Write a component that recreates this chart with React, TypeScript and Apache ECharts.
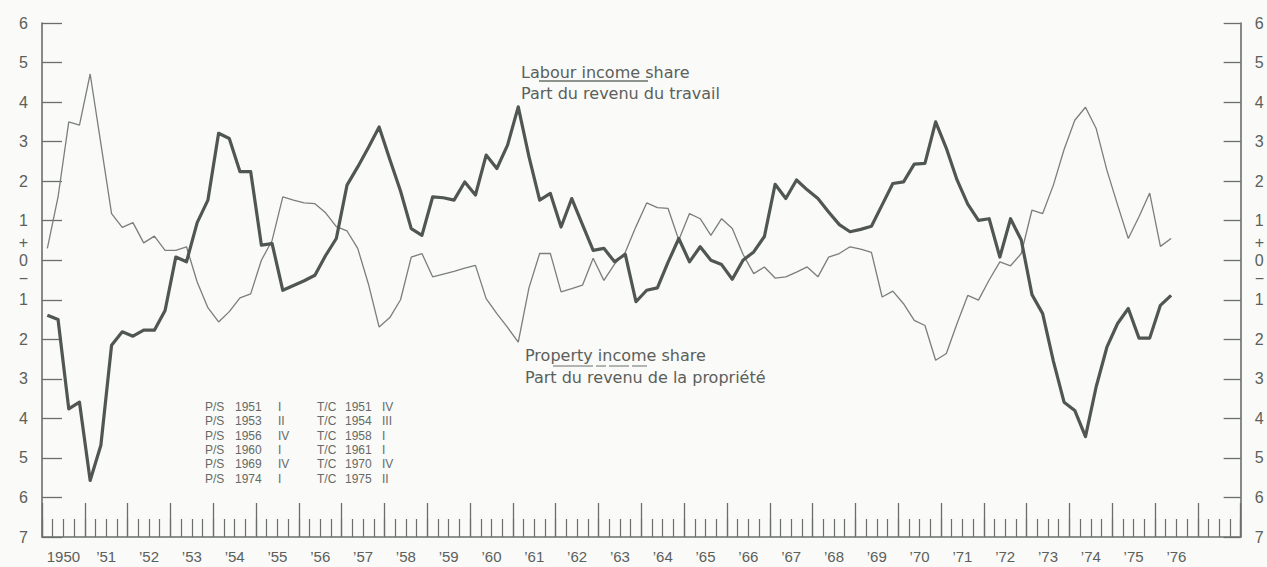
import React, { useEffect, useRef } from "react";
import * as echarts from "echarts";

// Year bands on the time axis (1950 .. 1977)
const years = [
  1950, 1951, 1952, 1953, 1954, 1955, 1956, 1957, 1958, 1959, 1960, 1961, 1962, 1963,
  1964, 1965, 1966, 1967, 1968, 1969, 1970, 1971, 1972, 1973, 1974, 1975, 1976, 1977,
];
const quarterNames = ["I", "II", "III", "IV"];

// Quarterly deviations, 1950 I .. 1976 II
const labourShare = [
  -1.39, -1.5, -3.76, -3.59, -5.57, -4.68, -2.15, -1.81, -1.92, -1.77, -1.77, -1.27,
  0.08, -0.04, 0.95, 1.52, 3.21, 3.08, 2.24, 2.24, 0.38, 0.42, -0.76, -0.64,
  -0.52, -0.38, 0.12, 0.55, 1.9, 2.36, 2.85, 3.37, 2.55, 1.75, 0.8, 0.63,
  1.6, 1.58, 1.52, 1.98, 1.65, 2.66, 2.32, 2.91, 3.88, 2.62, 1.52, 1.69,
  0.84, 1.56, 0.9, 0.25, 0.3, -0.04, 0.15, -1.05, -0.76, -0.7, -0.05, 0.55,
  -0.04, 0.34, 0.0, -0.11, -0.48, 0.0, 0.21, 0.6, 1.92, 1.56, 2.03, 1.78,
  1.56, 1.22, 0.9, 0.72, 0.78, 0.86, 1.4, 1.94, 1.98, 2.43, 2.45, 3.5,
  2.83, 2.03, 1.42, 1.01, 1.05, 0.08, 1.05, 0.51, -0.87, -1.35, -2.55, -3.59,
  -3.8, -4.46, -3.2, -2.2, -1.6, -1.22, -1.97, -1.97, -1.14, -0.89,
];
const propertyShare = [
  0.3, 1.6, 3.5, 3.42, 4.71, 2.95, 1.18, 0.83, 0.95, 0.44, 0.61, 0.25,
  0.25, 0.34, -0.55, -1.2, -1.56, -1.3, -0.95, -0.85, 0.0, 0.5, 1.6, 1.52,
  1.45, 1.43, 1.2, 0.85, 0.74, 0.3, -0.6, -1.69, -1.45, -1.0, 0.08, 0.17,
  -0.42, -0.35, -0.28, -0.2, -0.13, -0.97, -1.35, -1.7, -2.07, -0.7, 0.17, 0.17,
  -0.8, -0.72, -0.63, 0.05, -0.51, -0.1, 0.2, 0.85, 1.45, 1.33, 1.31, 0.51,
  1.18, 1.05, 0.63, 1.05, 0.8, 0.15, -0.34, -0.17, -0.45, -0.42, -0.3, -0.17,
  -0.42, 0.08, 0.17, 0.34, 0.28, 0.2, -0.93, -0.78, -1.1, -1.52, -1.65, -2.53,
  -2.36, -1.6, -0.89, -1.01, -0.5, -0.04, -0.14, 0.17, 1.27, 1.18, 1.9, 2.8,
  3.54, 3.87, 3.33, 2.28, 1.4, 0.55, 1.1, 1.7, 0.35, 0.55,
];

// Peak / trough table
const psYears = ["1951", "1953", "1956", "1960", "1969", "1974"];
const psQuarters = ["I", "II", "IV", "I", "IV", "I"];
const tcYears = ["1951", "1954", "1958", "1961", "1970", "1975"];
const tcQuarters = ["IV", "III", "I", "I", "IV", "II"];

const labourTitle = ["Labour income share", "Part du revenu du travail"];
const propertyTitle = ["Property income share", "Part du revenu de la propriété"];

const quarterCats: string[] = [];
years.forEach((y) => quarterNames.forEach((q) => quarterCats.push(`${y} ${q}`)));

const INK = "#5b605b";
const AXIS = "#6a6f6a";
const SANS = "'Liberation Sans', Arial, sans-serif";
const WIDE = "'DejaVu Sans', sans-serif";

function yLabel(v: number) {
  if (v === 0) return "+\n0\n\u2212";
  return String(Math.abs(v));
}

export default function App() {
  const ref = useRef<HTMLDivElement>(null);

  useEffect(() => {
    document.body.style.margin = "0";
    document.body.style.background = "#fafaf8";
    if (!ref.current) return;
    const chart = echarts.init(ref.current, undefined, { renderer: "svg" });

    const yAxisCommon = {
      type: "value" as const,
      min: -7,
      max: 6,
      interval: 1,
      splitLine: { show: false },
      axisLine: { show: true, lineStyle: { color: AXIS, width: 1.6 } },
      axisLabel: {
        formatter: yLabel,
        color: INK,
        fontSize: 16,
        fontFamily: SANS,
        margin: 14,
        lineHeight: 18,
      },
    };

    const tableText = (x: number, lines: string[]) => ({
      type: "text",
      left: x,
      top: 400,
      style: {
        text: lines.join("\n"),
        fill: "#666a66",
        font: `12px ${SANS}`,
        lineHeight: 14.3,
      },
    });

    chart.setOption({
      animation: false,
      backgroundColor: "#fafaf8",
      grid: { left: 42, right: 21, top: 23, bottom: 30, containLabel: false },
      xAxis: [
        {
          type: "category",
          data: years.map(String),
          boundaryGap: true,
          position: "bottom",
          axisLine: { show: true, onZero: false, lineStyle: { color: AXIS, width: 1.6 } },
          axisTick: { show: true, inside: true, length: 34, interval: 0, lineStyle: { color: AXIS, width: 1.3 } },
          axisLabel: {
            interval: 0,
            color: INK,
            fontSize: 15,
            fontFamily: SANS,
            margin: 12,
            formatter: (v: string) =>
              v === "1950" ? "1950" : v === "1977" ? "" : "\u2019" + v.slice(2),
          },
        },
        {
          type: "category",
          data: quarterCats,
          boundaryGap: true,
          position: "bottom",
          axisLine: { show: false, onZero: false },
          axisTick: { show: true, inside: true, length: 18, interval: 0, lineStyle: { color: AXIS, width: 1.2 } },
          axisLabel: { show: false },
        },
      ],
      yAxis: [
        {
          ...yAxisCommon,
          position: "left",
          axisTick: { show: true, inside: true, length: 20, lineStyle: { color: AXIS, width: 1.3 } },
        },
        {
          ...yAxisCommon,
          position: "right",
          axisTick: { show: true, inside: true, length: 17, lineStyle: { color: AXIS, width: 1.3 } },
        },
      ],
      series: [
        {
          name: "Property income share",
          type: "line",
          xAxisIndex: 1,
          yAxisIndex: 0,
          data: propertyShare,
          symbol: "none",
          lineStyle: { color: "#7a7f7a", width: 1.3 },
          z: 2,
        },
        {
          name: "Labour income share",
          type: "line",
          xAxisIndex: 1,
          yAxisIndex: 0,
          data: labourShare,
          symbol: "none",
          lineStyle: { color: "#505650", width: 3.2, join: "round" },
          z: 3,
        },
      ],
      graphic: [
        {
          type: "text",
          left: 521,
          top: 62,
          style: { text: labourTitle.join("\n"), fill: INK, font: `16px ${WIDE}`, lineHeight: 21 },
        },
        {
          type: "line",
          shape: { x1: 539, y1: 81, x2: 648, y2: 81 },
          style: { stroke: "#6a6f6a", lineWidth: 1.3 },
        },
        {
          type: "text",
          left: 525,
          top: 345,
          style: { text: propertyTitle.join("\n"), fill: INK, font: `16px ${WIDE}`, lineHeight: 21.5 },
        },
        {
          type: "line",
          shape: { x1: 553, y1: 366, x2: 647, y2: 366 },
          style: { stroke: "#6a6f6a", lineWidth: 1.1, lineDash: [40, 3, 10, 3, 20, 3] },
        },
        tableText(205, psYears.map(() => "P/S")),
        tableText(235, psYears),
        tableText(278, psQuarters),
        tableText(317, tcYears.map(() => "T/C")),
        tableText(345, tcYears),
        tableText(382, tcQuarters),
      ],
    });

    return () => chart.dispose();
  }, []);

  return <div ref={ref} style={{ width: 1267, height: 567 }} />;
}
